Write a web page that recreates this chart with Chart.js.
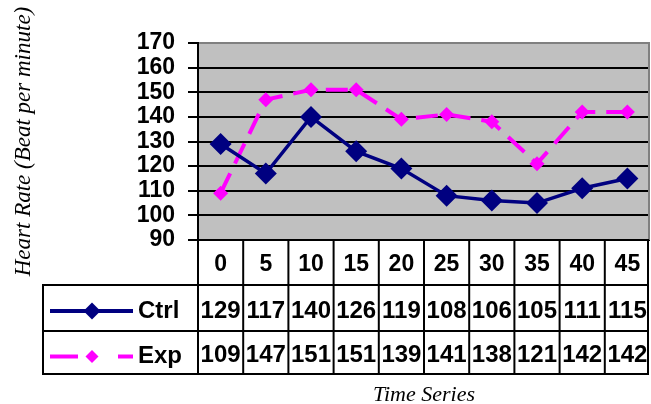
<!DOCTYPE html>
<html>
<head>
<meta charset="utf-8">
<script src="https://cdn.jsdelivr.net/npm/chart.js@4/dist/chart.umd.min.js"></script>
<style>
  html, body { margin: 0; padding: 0; background: #fff; }
  #wrap { width: 651px; height: 404px; position: relative; }
</style>
</head>
<body>
<div id="wrap"><canvas id="c" width="651" height="404"></canvas></div>
<script>
const categories = ['0', '5', '10', '15', '20', '25', '30', '35', '40', '45'];
const ctrlValues = [129, 117, 140, 126, 119, 108, 106, 105, 111, 115];
const expValues  = [109, 147, 151, 151, 139, 141, 138, 121, 142, 142];
const seriesNames = ['Ctrl', 'Exp'];
const yMin = 90, yMax = 170, yStep = 10;
const xTitle = 'Time Series';
const yTitle = 'Heart Rate (Beat per minute)';

const NAVY = '#000080', MAGENTA = '#FF00FF', PLOT_BG = '#C0C0C0';

const plotBg = {
  id: 'plotBg',
  beforeDraw(chart) {
    const { ctx, chartArea: a } = chart;
    ctx.save();
    ctx.fillStyle = PLOT_BG;
    ctx.fillRect(a.left, a.top, a.right - a.left, a.bottom - a.top);
    ctx.restore();
  },
  beforeDatasetsDraw(chart) {
    const { ctx, chartArea: a } = chart;
    ctx.save();
    ctx.strokeStyle = '#808080';
    ctx.lineWidth = 2;
    ctx.beginPath();
    ctx.moveTo(a.right - 1, a.top);
    ctx.lineTo(a.right - 1, a.bottom);
    ctx.stroke();
    ctx.restore();
  }
};

function diamond(ctx, x, y, r, color) {
  ctx.beginPath();
  ctx.moveTo(x, y - r);
  ctx.lineTo(x + r, y);
  ctx.lineTo(x, y + r);
  ctx.lineTo(x - r, y);
  ctx.closePath();
  ctx.fillStyle = color;
  ctx.fill();
}

const dataTable = {
  id: 'dataTable',
  afterDraw(chart) {
    const { ctx, chartArea: a, scales: { x } } = chart;
    const n = categories.length;
    const colW = (a.right - a.left) / n;
    const rows = [a.bottom, a.bottom + 45, a.bottom + 91, a.bottom + 134];
    const legendLeft = 43;
    ctx.save();
    ctx.strokeStyle = '#000';
    ctx.lineWidth = 2;
    const line = (x1, y1, x2, y2) => { ctx.beginPath(); ctx.moveTo(x1, y1); ctx.lineTo(x2, y2); ctx.stroke(); };
    line(a.left, rows[0], a.right - 1, rows[0]);
    for (let r = 1; r < rows.length; r++) line(legendLeft, rows[r], a.right - 1, rows[r]);
    for (let i = 0; i <= n; i++) {
      const xx = Math.min(a.left + i * colW, a.right - 2);
      line(xx, rows[0] - 1, xx, rows[3] + 1);
    }
    line(legendLeft, rows[1] - 1, legendLeft, rows[3] + 1);

    ctx.fillStyle = '#000';
    ctx.textAlign = 'center';
    ctx.textBaseline = 'middle';
    ctx.font = 'bold 23px "Liberation Sans", Arial, sans-serif';
    categories.forEach((c, i) => ctx.fillText(c, x.getPixelForValue(i), (rows[0] + rows[1]) / 2 + 2));
    ctx.font = 'bold 24px "Liberation Sans", Arial, sans-serif';
    const series = [ctrlValues, expValues];
    series.forEach((vals, s) => {
      const cy = (rows[s + 1] + rows[s + 2]) / 2 + 3;
      vals.forEach((v, i) => ctx.fillText(String(v), x.getPixelForValue(i), cy));
    });

    // legend keys
    const cy1 = (rows[1] + rows[2]) / 2 + 3;
    const cy2 = (rows[2] + rows[3]) / 2 + 4;
    ctx.strokeStyle = NAVY; ctx.lineWidth = 4;
    line(50, cy1, 133, cy1);
    diamond(ctx, 92, cy1, 8.5, NAVY);
    ctx.strokeStyle = MAGENTA; ctx.lineWidth = 4;
    line(50, cy2, 78, cy2);
    line(118, cy2, 133, cy2);
    diamond(ctx, 92, cy2, 6.5, MAGENTA);
    ctx.fillStyle = '#000';
    ctx.textAlign = 'left';
    ctx.fillText(seriesNames[0], 138, cy1);
    ctx.fillText(seriesNames[1], 138, cy2);

    // x title
    ctx.font = 'italic 22px "Liberation Serif", "Times New Roman", serif';
    ctx.textAlign = 'center';
    ctx.fillText(xTitle, (a.left + a.right) / 2, 395);
    ctx.restore();
  }
};

new Chart(document.getElementById('c'), {
  type: 'line',
  data: {
    labels: categories,
    datasets: [
      {
        label: seriesNames[0],
        data: ctrlValues,
        borderColor: NAVY,
        backgroundColor: NAVY,
        borderWidth: 3.5,
        pointStyle: 'rectRot',
        pointRadius: 11,
        pointHoverRadius: 11,
        pointBackgroundColor: NAVY,
        pointBorderColor: NAVY,
        pointBorderWidth: 0,
        tension: 0
      },
      {
        label: seriesNames[1],
        data: expValues,
        borderColor: MAGENTA,
        backgroundColor: MAGENTA,
        borderWidth: 4,
        borderDash: [22, 11],
        pointStyle: 'rectRot',
        pointRadius: 7.5,
        pointHoverRadius: 7.5,
        pointBackgroundColor: MAGENTA,
        pointBorderColor: MAGENTA,
        pointBorderWidth: 0,
        tension: 0
      }
    ]
  },
  options: {
    responsive: false,
    animation: false,
    events: [],
    layout: { autoPadding: false, padding: { left: 0, top: 43, right: 1, bottom: 164 } },
    plugins: { legend: { display: false }, tooltip: { enabled: false } },
    scales: {
      x: { display: false, offset: true },
      y: {
        min: yMin, max: yMax,
        afterFit(scale) { scale.width = 198; },
        ticks: {
          stepSize: yStep,
          autoSkip: false,
          color: '#000',
          padding: 13,
          font: { family: '"Liberation Sans", Arial, sans-serif', size: 23, weight: 'bold' }
        },
        grid: {
          color: (c) => (c.tick && c.tick.value === yMax ? '#808080' : '#000'),
          tickColor: '#000',
          lineWidth: 2,
          tickLength: 10
        },
        border: { display: true, color: '#000', width: 2 },
        title: {
          display: true,
          text: yTitle,
          color: '#000',
          padding: { top: 10, bottom: 0 },
          font: { family: '"Liberation Serif", "Times New Roman", serif', style: 'italic', size: 23, weight: 'normal' }
        }
      }
    }
  },
  plugins: [plotBg, dataTable]
});
</script>
</body>
</html>
